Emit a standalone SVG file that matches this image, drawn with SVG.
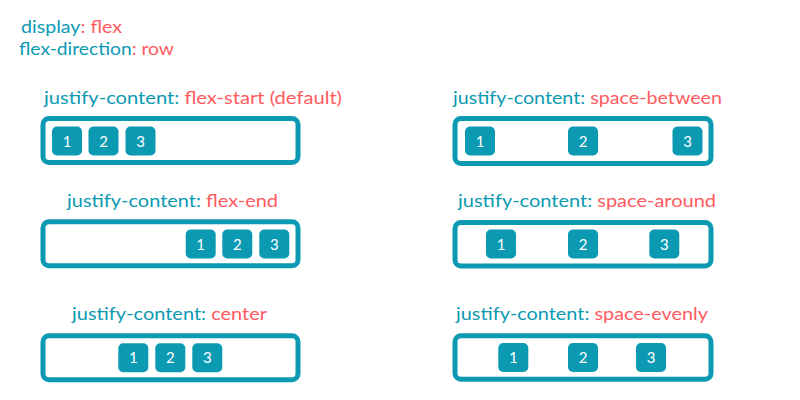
<svg xmlns="http://www.w3.org/2000/svg" width="800" height="400" viewBox="0 0 800 400">
<style>
text{font-family:Lato,"Open Sans","DejaVu Sans",sans-serif;}
.t{font-size:18px;fill:#0b9ab2;}
.r{fill:#ff5a5f;}
.c{fill:none;stroke:#0b9ab2;stroke-width:5;}
.b{fill:#0b9ab2;}
.n{font-size:15px;fill:#ffffff;text-anchor:middle;}
</style>
<rect width="800" height="400" fill="#ffffff"/>
<g id="header">
<text class="t" x="21" y="33" textLength="101" lengthAdjust="spacingAndGlyphs">display<tspan class="r">: flex</tspan></text>
<text class="t" x="19" y="55" textLength="155" lengthAdjust="spacingAndGlyphs">flex-direction<tspan class="r">: row</tspan></text>
</g>
<g id="flex-start">
<text class="t" x="44" y="104" textLength="298" lengthAdjust="spacingAndGlyphs">justify-content: <tspan class="r">flex-start (default)</tspan></text>
<rect class="c" x="43" y="118.5" width="255" height="44" rx="6"/>
<rect class="b" x="52" y="126.5" width="30" height="29" rx="5"/><text class="n" x="67" y="146.5">1</text>
<rect class="b" x="88.5" y="126.5" width="30" height="29" rx="5"/><text class="n" x="103.5" y="146.5">2</text>
<rect class="b" x="125.5" y="126.5" width="30" height="29" rx="5"/><text class="n" x="140.5" y="146.5">3</text>
</g>
<g id="space-between">
<text class="t" x="453" y="104" textLength="269" lengthAdjust="spacingAndGlyphs">justify-content: <tspan class="r">space-between</tspan></text>
<rect class="c" x="455" y="118.5" width="256" height="45" rx="6"/>
<rect class="b" x="465" y="126.5" width="30" height="29" rx="5"/><text class="n" x="480" y="146.5">1</text>
<rect class="b" x="568" y="126.5" width="30" height="29" rx="5"/><text class="n" x="583" y="146.5">2</text>
<rect class="b" x="672.5" y="126.5" width="30" height="29" rx="5"/><text class="n" x="687.5" y="146.5">3</text>
</g>
<g id="flex-end">
<text class="t" x="67" y="207" textLength="211" lengthAdjust="spacingAndGlyphs">justify-content: <tspan class="r">flex-end</tspan></text>
<rect class="c" x="43" y="221.8" width="255" height="44" rx="6"/>
<rect class="b" x="185.7" y="229.5" width="30" height="29" rx="5"/><text class="n" x="200.7" y="249.5">1</text>
<rect class="b" x="222.3" y="229.5" width="30" height="29" rx="5"/><text class="n" x="237.3" y="249.5">2</text>
<rect class="b" x="259.3" y="229.5" width="30" height="29" rx="5"/><text class="n" x="274.3" y="249.5">3</text>
</g>
<g id="space-around">
<text class="t" x="458" y="207" textLength="258" lengthAdjust="spacingAndGlyphs">justify-content: <tspan class="r">space-around</tspan></text>
<rect class="c" x="455" y="222.5" width="256" height="43.5" rx="6"/>
<rect class="b" x="486" y="229.5" width="30" height="29" rx="5"/><text class="n" x="501" y="249.5">1</text>
<rect class="b" x="568" y="229.5" width="30" height="29" rx="5"/><text class="n" x="583" y="249.5">2</text>
<rect class="b" x="649.3" y="229.5" width="30" height="29" rx="5"/><text class="n" x="664.3" y="249.5">3</text>
</g>
<g id="center">
<text class="t" x="72" y="320" textLength="195" lengthAdjust="spacingAndGlyphs">justify-content: <tspan class="r">center</tspan></text>
<rect class="c" x="43" y="335.8" width="255" height="44" rx="6"/>
<rect class="b" x="118.3" y="343.3" width="30" height="29" rx="5"/><text class="n" x="133.3" y="363.3">1</text>
<rect class="b" x="155.3" y="343.3" width="30" height="29" rx="5"/><text class="n" x="170.3" y="363.3">2</text>
<rect class="b" x="192.3" y="343.3" width="30" height="29" rx="5"/><text class="n" x="207.3" y="363.3">3</text>
</g>
<g id="space-evenly">
<text class="t" x="456" y="320" textLength="252" lengthAdjust="spacingAndGlyphs">justify-content: <tspan class="r">space-evenly</tspan></text>
<rect class="c" x="455" y="335.8" width="256" height="43.5" rx="6"/>
<rect class="b" x="498.3" y="343" width="30" height="29" rx="5"/><text class="n" x="513.3" y="363">1</text>
<rect class="b" x="568" y="343" width="30" height="29" rx="5"/><text class="n" x="583" y="363">2</text>
<rect class="b" x="636" y="343" width="30" height="29" rx="5"/><text class="n" x="651" y="363">3</text>
</g>
<g id="connectors"/>
</svg>
